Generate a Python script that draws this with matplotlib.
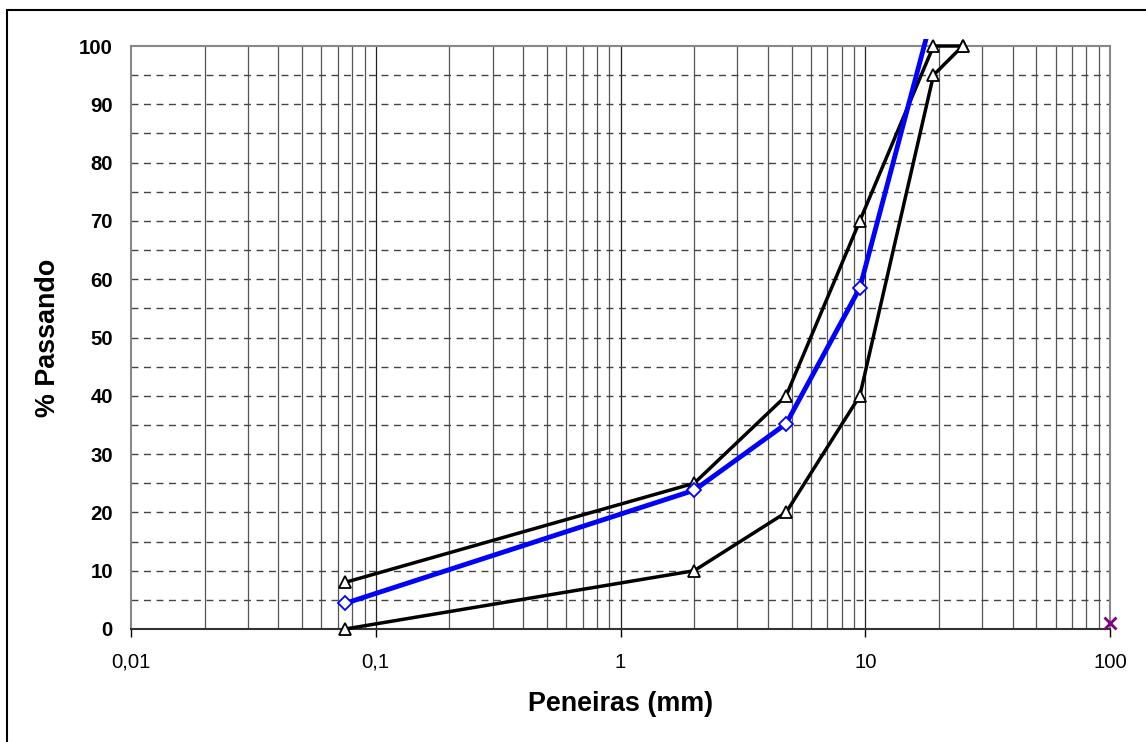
import matplotlib
matplotlib.use('Agg')
import matplotlib.pyplot as plt
from matplotlib.patches import Rectangle
from matplotlib.ticker import FixedLocator, NullFormatter

plt.rcParams['font.family'] = ['Liberation Sans', 'DejaVu Sans']

# ___DATA___ #
SIEVES = [0.075, 2.0, 4.75, 9.5, 19.0, 25.0]       # peneiras (mm)
UPPER = [8, 25, 40, 70, 100, 100]                  # limite superior
LOWER = [0, 10, 20, 40, 95, 100]                   # limite inferior
BLEND_X = [0.075, 2.0, 4.75, 9.5, 19.0]            # curva da mistura
BLEND_Y = [4.4, 23.8, 35.2, 58.5, 106]
EXTRA_X = [100]
EXTRA_Y = [1]
X_TICKS = [0.01, 0.1, 1, 10, 100]
X_LABELS = ['0,01', '0,1', '1', '10', '100']
Y_TICKS = list(range(0, 101, 10))

W, H = 1146, 742
fig = plt.figure(figsize=(W / 100, H / 100), dpi=100)
ax = fig.add_axes([131 / W, (H - 629) / H, 979 / W, 583 / H])

ax.set_xscale('log')
ax.set_xlim(0.01, 100)
ax.set_ylim(0, 100)

# grid: solid verticals on every log step, dashed horizontals every 5
minor = [m * 10.0 ** e for e in range(-2, 2) for m in range(2, 10)]
for v in minor:
    ax.axvline(v, color='#555555', lw=0.9, zorder=1)
for v in X_TICKS[1:-1]:
    ax.axvline(v, color='#222222', lw=0.9, zorder=1)
for h in range(5, 100, 5):
    ax.axhline(h, color='#444444', lw=1.0, ls=(0, (5, 4)), zorder=1)

ax.plot(SIEVES, UPPER, color='black', lw=2.5, marker='^', ms=9,
        mfc='white', mec='black', mew=1.3, zorder=3, clip_on=False)
ax.plot(SIEVES, LOWER, color='black', lw=2.5, marker='^', ms=9,
        mfc='white', mec='black', mew=1.3, zorder=3, clip_on=False)
blend, = ax.plot(BLEND_X, BLEND_Y, color='#0000FF', lw=3.5, marker='D', ms=7.5,
                 mfc='white', mec='#0000FF', mew=1.3, zorder=4)
# the blend curve runs a little past the top of the plot area
blend.set_clip_path(Rectangle((0, -0.02), 1, 1.032, transform=ax.transAxes))
ax.plot(EXTRA_X, EXTRA_Y, ls='none', marker='x', ms=8, mew=2,
        color='#800080', zorder=5, clip_on=False)

ax.xaxis.set_major_locator(FixedLocator(X_TICKS))
ax.xaxis.set_minor_locator(FixedLocator([]))
ax.xaxis.set_minor_formatter(NullFormatter())
ax.set_xticklabels(X_LABELS)
ax.set_yticks(Y_TICKS)
ax.tick_params(axis='x', length=6, width=1, direction='out', pad=11,
               labelsize=14.7, colors='black')
ax.tick_params(axis='y', length=0, pad=13, labelsize=14.7)
for lab in ax.get_yticklabels():
    lab.set_fontweight('bold')

for side in ['left', 'top', 'right']:
    ax.spines[side].set_color('#888888')
    ax.spines[side].set_linewidth(1.5)
ax.spines['bottom'].set_color('#333333')
ax.spines['bottom'].set_linewidth(1.5)

ax.set_xlabel('Peneiras (mm)', fontsize=19.4, fontweight='bold', labelpad=14)
ax.set_ylabel('% Passando', fontsize=19.4, fontweight='bold', labelpad=13)

# chart area border
fig.patches.append(Rectangle((7 / W, -0.1), 1.2, (H - 10) / H + 0.1,
                             transform=fig.transFigure, fill=False,
                             ec='black', lw=1.5))

fig.savefig('out.png', dpi=100)
